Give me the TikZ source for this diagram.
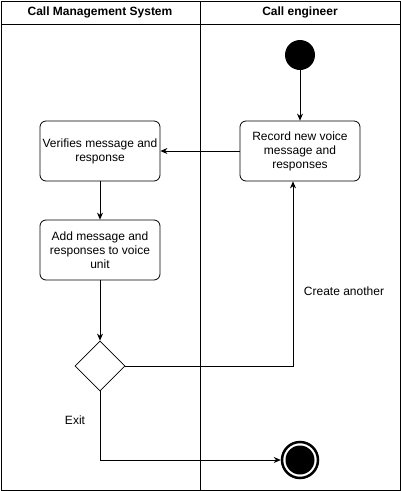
\documentclass[tikz,border=0pt]{standalone}
\usepackage{fontspec}
\setmainfont{Liberation Sans}
\usetikzlibrary{arrows.meta,shapes.geometric}
\begin{document}
\begin{tikzpicture}[x=1pt,y=-1pt,
  box/.style={draw,thick,rounded corners=6pt,minimum width=120pt,minimum height=60pt,align=center,font=\fontsize{12}{14}\selectfont,inner sep=0.5pt},
  arr/.style={-{Stealth[length=7pt,width=6pt]},thick},
  lbl/.style={font=\fontsize{12}{14}\selectfont},
  hdr/.style={font=\bfseries\fontsize{12}{14}\selectfont}]
\useasboundingbox (0,0) rectangle (401,491);
\fill[white] (0,0) rectangle (401,491);
% pool
\draw[thick] (1,1) rectangle (400,490);
\draw[thick] (1,24) -- (400,24);
\draw[thick] (200,1) -- (200,490);
\node[hdr] (h1) at (100,12.5) {Call Management System};
\node[hdr] (h2) at (300,12.5) {Call engineer};
% nodes
\node[circle,fill=black,minimum size=30pt,inner sep=0] (start) at (300,55) {};
\node[box] (rec) at (300,151) {Record new voice\\message and\\responses};
\node[box] (ver) at (100,151) {Verifies message and\\response};
\node[box] (add) at (100,250) {Add message and\\responses to voice\\unit};
\node[diamond,draw,thick,minimum width=50pt,minimum height=50pt,inner sep=0] (dec) at (100,366) {};
\node[circle,draw,line width=2.5pt,minimum size=36pt,inner sep=0] (end) at (300,460) {};
\node[circle,fill=black,minimum size=29pt,inner sep=0] (endin) at (300,460) {};
\coordinate (c1) at (293,366);
\coordinate (c2) at (100,460);
% edges
\draw[arr] (start) -- (rec);
\draw[arr] (rec) -- (ver);
\draw[arr] (ver) -- (add);
\draw[arr] (add) -- (dec);
\draw[arr] (dec.east) -- (c1) -- (rec.south -| c1);
\draw[arr] (dec.south) -- (c2) -- (end.west);
\node[lbl] (l1) at (344,291) {Create another};
\node[lbl] (l2) at (75,420) {Exit};
\end{tikzpicture}
\end{document}
